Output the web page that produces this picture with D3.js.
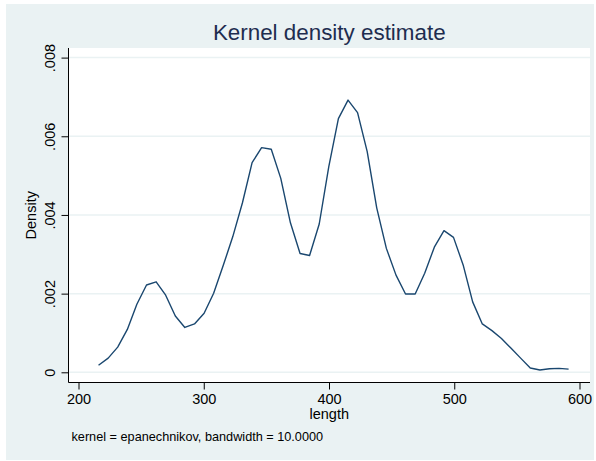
<!DOCTYPE html>
<html>
<head>
<meta charset="utf-8">
<script src="https://cdn.jsdelivr.net/npm/d3@7"></script>
<style>
  body { margin: 0; background: #ffffff; }
  text { font-family: "Liberation Sans", Arial, sans-serif; }
</style>
</head>
<body>
<div id="chart"></div>
<script>
var width = 596, height = 461

// kdensity grid points (length) and estimated density
var lengthPts = [216, 223.7, 231.3, 239, 246.6, 254.3, 262, 269.6, 277.3, 284.9,
  292.6, 300.3, 307.9, 315.6, 323.2, 330.9, 338.6, 346.2, 353.9, 361.5,
  369.2, 376.9, 384.5, 392.2, 399.8, 407.5, 415.2, 422.8, 430.5, 438.1,
  445.8, 453.5, 461.1, 468.8, 476.4, 484.1, 491.8, 499.4, 507.1, 514.7,
  522.4, 530.1, 537.7, 545.4, 553, 560.7, 568.4, 576, 583.7, 591.3]
var densityVals = [0.00018, 0.00036, 0.00064, 0.00109, 0.00173, 0.00222, 0.00230, 0.00196, 0.00143, 0.00114,
  0.00123, 0.00150, 0.00201, 0.00272, 0.00345, 0.00431, 0.00533, 0.00571, 0.00567, 0.00493,
  0.00380, 0.00302, 0.00297, 0.00377, 0.00522, 0.00645, 0.00692, 0.00660, 0.00561, 0.00418,
  0.00315, 0.00247, 0.00199, 0.00199, 0.00252, 0.00318, 0.00360, 0.00343, 0.00273, 0.00179,
  0.00123, 0.00106, 0.00086, 0.00061, 0.00036, 0.00011, 0.00006, 0.00009, 0.00010, 0.00008]

var xTicks = [200, 300, 400, 500, 600]
var yTicks = [0, 0.002, 0.004, 0.006, 0.008]
var yTickLabels = ["0", ".002", ".004", ".006", ".008"]

var data = lengthPts.map((v, i) => ({ x: v, y: densityVals[i] }))

var plot = { left: 68.5, right: 590, top: 48, bottom: 382.5 }

var svg = d3.select("#chart")
  .append("svg")
    .attr("width", width)
    .attr("height", height)

// graph region
svg.append("rect")
  .attr("x", 6).attr("y", 4)
  .attr("width", 588).attr("height", 456)
  .attr("fill", "#eaf2f3")

// plot region
svg.append("rect")
  .attr("x", plot.left).attr("y", plot.top)
  .attr("width", plot.right - plot.left).attr("height", plot.bottom - plot.top)
  .attr("fill", "#ffffff")

var x = d3.scaleLinear()
  .domain([200, 600])
  .range([78.5, 579.5])

var y = d3.scaleLinear()
  .domain([0, 0.008])
  .range([372.3, 57.6])

// gridlines
svg.append("g")
  .selectAll("line")
  .data(yTicks)
  .enter()
  .append("line")
    .attr("x1", plot.left)
    .attr("x2", plot.right)
    .attr("y1", d => y(d))
    .attr("y2", d => y(d))
    .attr("stroke", "#eaf2f3")
    .attr("stroke-width", 1.5)

// axes
var yAxis = svg.append("g")
  .attr("transform", `translate(${plot.left},0)`)
  .call(d3.axisLeft(y).tickValues(yTicks).tickSize(7).tickSizeOuter(0)
    .tickFormat((d, i) => yTickLabels[i]))
yAxis.select(".domain").attr("d", `M0,${plot.top}V${plot.bottom}`).attr("stroke", "#000")
yAxis.selectAll(".tick line").attr("stroke", "#000")
yAxis.selectAll(".tick text")
  .attr("x", null).attr("dy", null)
  .attr("text-anchor", "middle")
  .attr("transform", "translate(-13.5,0) rotate(-90)")
  .style("font-size", "14.5px")
  .attr("fill", "#000")

var xAxis = svg.append("g")
  .attr("transform", `translate(0,${plot.bottom})`)
  .call(d3.axisBottom(x).tickValues(xTicks).tickSize(7).tickSizeOuter(0))
xAxis.select(".domain").attr("d", `M${plot.left},0H${plot.right}`).attr("stroke", "#000")
xAxis.selectAll(".tick line").attr("stroke", "#000")
xAxis.selectAll(".tick text")
  .attr("y", 11).attr("dy", "0.71em")
  .style("font-size", "14.5px")
  .attr("fill", "#000")

// density line
svg.append("path")
  .datum(data)
  .attr("fill", "none")
  .attr("stroke", "#1a476f")
  .attr("stroke-width", 1.4)
  .attr("stroke-linejoin", "round")
  .attr("d", d3.line().x(d => x(d.x)).y(d => y(d.y)))

// titles
svg.append("text")
  .attr("x", (plot.left + plot.right) / 2)
  .attr("y", 39.5)
  .attr("text-anchor", "middle")
  .style("font-size", "22.4px")
  .attr("fill", "#1e2d4f")
  .text("Kernel density estimate")

svg.append("text")
  .attr("x", (plot.left + plot.right) / 2)
  .attr("y", 418.5)
  .attr("text-anchor", "middle")
  .style("font-size", "14.5px")
  .attr("fill", "#000")
  .text("length")

svg.append("text")
  .attr("transform", `translate(35.5,${(plot.top + plot.bottom) / 2}) rotate(-90)`)
  .attr("text-anchor", "middle")
  .style("font-size", "14.5px")
  .attr("fill", "#000")
  .text("Density")

svg.append("text")
  .attr("x", 71.5)
  .attr("y", 441)
  .style("font-size", "12.7px")
  .attr("fill", "#000")
  .text("kernel = epanechnikov, bandwidth = 10.0000")
</script>
</body>
</html>
